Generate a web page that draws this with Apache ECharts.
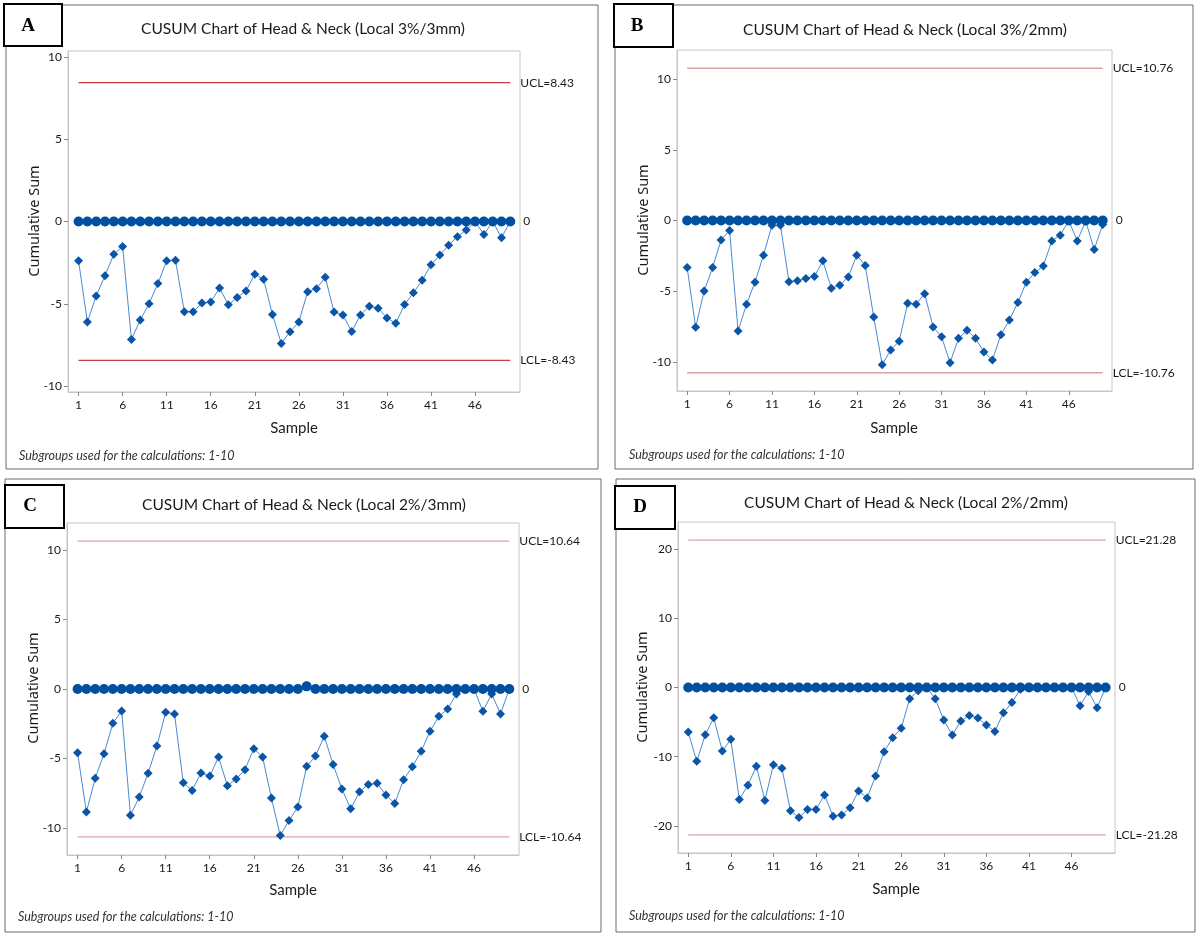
<!DOCTYPE html>
<html>
<head>
<meta charset="utf-8">
<script src="https://cdn.jsdelivr.net/npm/echarts@6/dist/echarts.min.js"></script>
<style>html,body{margin:0;padding:0;background:#fff}#c{width:1200px;height:936px}</style>
</head>
<body>
<div id="c"></div>
<script>
// ---------------- DATA ----------------
const samples = [1,2,3,4,5,6,7,8,9,10,11,12,13,14,15,16,17,18,19,20,21,22,23,24,25,26,27,28,29,30,31,32,33,34,35,36,37,38,39,40,41,42,43,44,45,46,47,48,49,50];
const xTickLabels = [1,6,11,16,21,26,31,36,41,46];
const yTicksSmall = [-10,-5,0,5,10];
const yTicksLarge = [-20,-10,0,10,20];
const panelLetters = ['A','B','C','D'];
const chartTitles = [
  'CUSUM Chart of Head & Neck (Local 3%/3mm)',
  'CUSUM Chart of Head & Neck (Local 3%/2mm)',
  'CUSUM Chart of Head & Neck (Local 2%/3mm)',
  'CUSUM Chart of Head & Neck (Local 2%/2mm)'
];
const controlLimits = [8.43, 10.76, 10.64, 21.28];
const footnote = 'Subgroups used for the calculations: 1-10';

const upperA = [0,0,0,0,0,0,0,0,0,0,0,0,0,0,0,0,0,0,0,0,0,0,0,0,0,0,0,0,0,0,0,0,0,0,0,0,0,0,0,0,0,0,0,0,0,0,0,0,0,0];
const lowerA = [-2.39,-6.10,-4.52,-3.29,-1.99,-1.52,-7.16,-5.98,-4.99,-3.77,
  -2.39,-2.35,-5.48,-5.48,-4.95,-4.89,-4.04,-5.05,-4.62,-4.22,
  -3.20,-3.51,-5.64,-7.40,-6.69,-6.10,-4.26,-4.08,-3.38,-5.50,
  -5.68,-6.68,-5.67,-5.14,-5.26,-5.86,-6.18,-5.04,-4.33,-3.57,
  -2.62,-2.04,-1.44,-0.92,-0.52,0,-0.79,0,-0.98,0];

const upperB = [0,0,0,0,0,0,0,0,0,0,0,0,0,0,0,0,0,0,0,0,0,0,0,0,0,0,0,0,0,0,0,0,0,0,0,0,0,0,0,0,0,0,0,0,0,0,0,0,0,0];
const lowerB = [-3.33,-7.55,-4.98,-3.33,-1.37,-0.71,-7.81,-5.92,-4.36,-2.45,
  -0.33,-0.33,-4.32,-4.25,-4.10,-3.96,-2.85,-4.79,-4.58,-4.00,
  -2.45,-3.18,-6.82,-10.19,-9.15,-8.54,-5.85,-5.92,-5.17,-7.52,
  -8.21,-10.05,-8.33,-7.76,-8.33,-9.29,-9.86,-8.07,-7.03,-5.80,
  -4.36,-3.68,-3.21,-1.44,-1.04,0,-1.44,-0.05,-2.05,-0.28];

const upperC = [0,0,0,0,0,0,0,0,0,0,0,0,0,0,0,0,0,0,0,0,0,0,0,0,0,0,0.19,0,0,0,0,0,0,0,0,0,0,0,0,0,0,0,0,0,0,0,0,0,0,0];
const lowerC = [-4.59,-8.86,-6.43,-4.66,-2.47,-1.58,-9.08,-7.78,-6.07,-4.11,
  -1.68,-1.80,-6.75,-7.30,-6.05,-6.27,-4.90,-6.96,-6.48,-5.81,
  -4.30,-4.90,-7.85,-10.54,-9.46,-8.50,-5.57,-4.83,-3.41,-5.43,
  -7.20,-8.62,-7.39,-6.87,-6.79,-7.63,-8.24,-6.53,-5.59,-4.49,
  -3.05,-1.97,-1.44,-0.36,0,0,-1.61,-0.36,-1.80,0];

const upperD = [0,0,0,0,0,0,0,0,0,0,0,0,0,0,0,0,0,0,0,0,0,0,0,0,0,0,0,0,0,0,0,0,0,0,0,0,0,0,0,0,0,0,0,0,0,0,0,0,0,0];
const lowerD = [-6.43,-10.66,-6.82,-4.37,-9.17,-7.49,-16.18,-14.11,-11.38,-16.32,
  -11.14,-11.67,-17.81,-18.77,-17.62,-17.62,-15.51,-18.58,-18.43,-17.38,
  -14.93,-15.94,-12.77,-9.27,-7.25,-5.90,-1.63,-0.48,0,-1.63,
  -4.70,-6.87,-4.85,-4.03,-4.42,-5.42,-6.34,-3.65,-2.16,-0.25,
  0,0,0,0,0,0,-2.64,-0.58,-2.93,0];

const uppers = [upperA, upperB, upperC, upperD];
const lowers = [lowerA, lowerB, lowerC, lowerD];
const yTickSets = [yTicksSmall, yTicksSmall, yTicksSmall, yTicksLarge];

// ---------------- LAYOUT / STYLE ----------------
const FONT = 'Lato, "Noto Sans", sans-serif';
const grids = [
  {left: 68,  top: 51,  width: 452, height: 341},
  {left: 677, top: 50,  width: 435, height: 341},
  {left: 67,  top: 523, width: 452, height: 332},
  {left: 678, top: 522, width: 437, height: 331}
];
const yExtent = [10.35, 12.05, 11.95, 23.9];
const xRange = [-0.2, 51.1];
const panelBoxes = [
  {x: 6, y: 5, w: 592, h: 464},
  {x: 615, y: 5, w: 578, h: 464},
  {x: 5, y: 479, w: 596, h: 453},
  {x: 616, y: 479, w: 579, h: 453}
];
const letterBoxes = [
  {x: 4, y: 4, w: 58, h: 42, tx: 28, ty: 26},
  {x: 614, y: 4, w: 59, h: 43, tx: 637, ty: 26},
  {x: 5, y: 485, w: 59, h: 43, tx: 30, ty: 506},
  {x: 615, y: 486, w: 60, h: 43, tx: 640, ty: 507}
];
const titlePos = [[303, 29], [905, 30], [304, 505], [906, 503]];
const xNamePos = [[294, 428], [894, 428], [293, 890], [896, 889]];
const yNamePos = [[35, 221], [644, 220], [34, 688], [643, 687]];
const footPos = [[19, 456], [629, 455], [18, 917], [629, 916]];
const limitColors = ['#c43c3c', '#dba3a3', '#dba3a3', '#dba3a3'];

const option = {
  animation: false,
  backgroundColor: '#fff',
  grid: grids.map(g => Object.assign({show: true, borderColor: '#c6c6c6', borderWidth: 1, backgroundColor: '#fff'}, g)),
  xAxis: grids.map((g, i) => ({
    type: 'value', gridIndex: i, min: xRange[0], max: xRange[1],
    axisLine: {show: true, onZero: false, lineStyle: {color: '#c6c6c6'}},
    axisTick: {show: true, length: 4, customValues: xTickLabels, lineStyle: {color: '#888'}},
    axisLabel: {show: true, customValues: xTickLabels, margin: 7, color: '#1a1a1a', fontSize: 12, fontFamily: FONT},
    splitLine: {show: false}
  })),
  yAxis: grids.map((g, i) => ({
    type: 'value', gridIndex: i, min: -yExtent[i], max: yExtent[i],
    axisLine: {show: true, onZero: false, lineStyle: {color: '#c6c6c6'}},
    axisTick: {show: true, length: 4, customValues: yTickSets[i], lineStyle: {color: '#888'}},
    axisLabel: {show: true, customValues: yTickSets[i], margin: 6, color: '#1a1a1a', fontSize: 12, fontFamily: FONT},
    splitLine: {show: false}
  })),
  series: [],
  graphic: []
};

const first = samples[0], last = samples[samples.length - 1];
for (let i = 0; i < 4; i++) {
  const cl = controlLimits[i];
  const limitStyle = {color: limitColors[i], width: 1.3};
  option.series.push({
    type: 'line', xAxisIndex: i, yAxisIndex: i, data: [[first, cl], [last, cl]],
    symbol: 'none', lineStyle: limitStyle, silent: true, z: 1,
    endLabel: {show: true, formatter: 'UCL=' + cl, distance: 10, color: '#1a1a1a', fontSize: 12, fontFamily: FONT}
  });
  option.series.push({
    type: 'line', xAxisIndex: i, yAxisIndex: i, data: [[first, -cl], [last, -cl]],
    symbol: 'none', lineStyle: limitStyle, silent: true, z: 1,
    endLabel: {show: true, formatter: 'LCL=-' + cl, distance: 10, color: '#1a1a1a', fontSize: 12, fontFamily: FONT}
  });
  option.series.push({
    type: 'line', xAxisIndex: i, yAxisIndex: i,
    data: samples.map((s, k) => [s, lowers[i][k]]),
    symbol: 'diamond', symbolSize: 9, showSymbol: true,
    itemStyle: {color: '#0b55a6'}, lineStyle: {color: '#4a8bd2', width: 1}, z: 2
  });
  option.series.push({
    type: 'line', xAxisIndex: i, yAxisIndex: i,
    data: samples.map((s, k) => [s, uppers[i][k]]),
    symbol: 'circle', symbolSize: 10, showSymbol: true,
    itemStyle: {color: '#0050a2'}, lineStyle: {color: '#0050a2', width: 1}, z: 3,
    endLabel: {show: true, formatter: '0', distance: 13, color: '#1a1a1a', fontSize: 12, fontFamily: FONT}
  });

  const pb = panelBoxes[i];
  option.graphic.push({type: 'rect', shape: {x: pb.x, y: pb.y, width: pb.w, height: pb.h}, style: {fill: 'none', stroke: '#6a6a6a', lineWidth: 1}, z: 0, silent: true});
  const lb = letterBoxes[i];
  option.graphic.push({type: 'rect', shape: {x: lb.x, y: lb.y, width: lb.w, height: lb.h}, style: {fill: '#fff', stroke: '#000', lineWidth: 2}, z: 10, silent: true});
  option.graphic.push({type: 'text', x: lb.tx, y: lb.ty, style: {text: panelLetters[i], font: 'bold 19px "Liberation Serif", "DejaVu Serif", serif', fill: '#000', align: 'center', verticalAlign: 'middle'}, z: 11, silent: true});
  option.graphic.push({type: 'text', x: titlePos[i][0], y: titlePos[i][1], style: {text: chartTitles[i], font: '15.5px ' + FONT, fill: '#1a1a1a', align: 'center', verticalAlign: 'middle'}, z: 5, silent: true});
  option.graphic.push({type: 'text', x: xNamePos[i][0], y: xNamePos[i][1], style: {text: 'Sample', font: '15px ' + FONT, fill: '#1a1a1a', align: 'center', verticalAlign: 'middle'}, z: 5, silent: true});
  option.graphic.push({type: 'text', x: yNamePos[i][0], y: yNamePos[i][1], rotation: Math.PI / 2, style: {text: 'Cumulative Sum', font: '14.5px "Noto Sans", sans-serif', fill: '#1a1a1a', align: 'center', verticalAlign: 'middle'}, z: 5, silent: true});
  option.graphic.push({type: 'text', x: footPos[i][0], y: footPos[i][1], style: {text: footnote, font: 'italic 12.5px ' + FONT, fill: '#333', align: 'left', verticalAlign: 'middle'}, z: 5, silent: true});
}

const chart = echarts.init(document.getElementById('c'), null, {renderer: 'canvas'});
chart.setOption(option);
</script>
</body>
</html>
